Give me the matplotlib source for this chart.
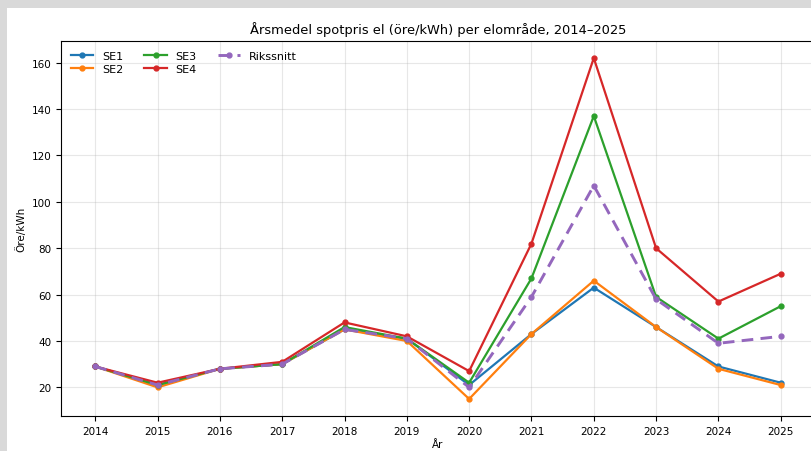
import matplotlib.pyplot as plt
from matplotlib.patches import Rectangle

# Årsmedel spotpris per elområde (öre/kWh)
years = [2014, 2015, 2016, 2017, 2018, 2019, 2020, 2021, 2022, 2023, 2024, 2025]
se1 = [29, 21, 28, 30, 45, 41, 21, 43, 63, 46, 29, 22]
se2 = [29, 20, 28, 30, 45, 40, 15, 43, 66, 46, 28, 21]
se3 = [29, 21, 28, 30, 46, 41, 22, 67, 137, 59, 41, 55]
se4 = [29, 22, 28, 31, 48, 42, 27, 82, 162, 80, 57, 69]
riks = [29, 21, 28, 30, 45, 41, 20, 59, 107, 58, 39, 42]

fig = plt.figure(figsize=(8.11, 4.52), dpi=100, facecolor="#d9d9d9")
# vit yta för själva figuren, bakom axlarna
fig.add_artist(Rectangle((7/811, 0), 1, 1 - 9/452, transform=fig.transFigure,
                         facecolor="white", edgecolor="none", zorder=-1))

ax = fig.add_axes([61/811, 1 - 417/452, 754/811, 375/452])
ax.plot(years, se1, marker="o", ms=3.5, lw=1.6, color="C0", label="SE1")
ax.plot(years, se2, marker="o", ms=3.5, lw=1.6, color="C1", label="SE2")
ax.plot(years, se3, marker="o", ms=3.5, lw=1.6, color="C2", label="SE3")
ax.plot(years, se4, marker="o", ms=3.5, lw=1.6, color="C3", label="SE4")
ax.plot(years, riks, marker="o", ms=3.5, lw=2.1, ls=(0, (4, 2.5)), color="C4", label="Rikssnitt")

ax.set_xticks(years)
ax.tick_params(labelsize=7.5)
ax.set_xlabel("År", fontsize=7.5, labelpad=2)
ax.set_ylabel("Öre/kWh", fontsize=7.5)
ax.set_title("Årsmedel spotpris el (öre/kWh) per elområde, 2014–2025", fontsize=9.4)
ax.grid(True, alpha=0.3)
ax.legend(loc="upper left", ncol=3, fontsize=8, frameon=False,
          handlelength=2, columnspacing=1.9, labelspacing=0.3)

fig.savefig("out.png", dpi=100, facecolor=fig.get_facecolor())
